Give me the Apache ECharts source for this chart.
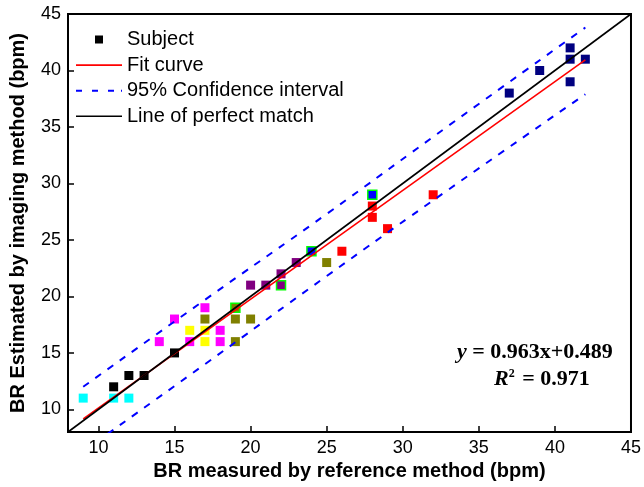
<!DOCTYPE html>
<html>
<head>
<meta charset="utf-8">
<script src="https://cdn.jsdelivr.net/npm/echarts@6/dist/echarts.min.js"></script>
<style>html,body{margin:0;padding:0;background:#fff}#c{width:644px;height:487px}</style>
</head>
<body>
<div id="c"></div>
<script>
// ---- data ----
const xTickValues = [10, 15, 20, 25, 30, 35, 40, 45];
const yTickValues = [10, 15, 20, 25, 30, 35, 40, 45];

const subjBlack       = [[11,12],[12,13],[13,13],[15,15]];
const subjCyan        = [[9,11],[11,11],[12,11]];
const subjMagenta     = [[14,16],[15,18],[16,16],[17,19],[18,17],[18,16]];
const subjYellow      = [[16,17],[17,17],[17,16]];
const subjOlive       = [[17,18],[19,18],[20,18],[19,16],[25,23]];
const subjOliveGreen  = [[19,19]];
const subjPurple      = [[20,21],[21,21],[22,22],[23,23]];
const subjPurpleGreen = [[22,21]];
const subjBlueGreen   = [[24,24],[28,29]];
const subjRed         = [[26,24],[28,28],[28,27],[29,26],[32,29]];
const subjNavy        = [[37,38],[39,40],[41,42],[41,41],[42,41],[41,39]];

const fitLine     = [[9, 9.16], [42, 40.94]];
const upperBand   = [[9, 12.0], [17, 19.7], [25, 27.3], [33, 35.1], [42, 43.8]];
const lowerBand   = [[9, 6.3], [17, 14.0], [25, 21.8], [33, 29.45], [42, 37.9]];
const perfectLine = [[8, 8], [45, 45]];

// ---- styles ----
const FONT = 'Liberation Sans, Arial, sans-serif';
const groups = [
  {name: 'Subject', data: subjBlack,       color: '#000000'},
  {name: 'g_cyan',  data: subjCyan,        color: '#00FFFF'},
  {name: 'g_mag',   data: subjMagenta,     color: '#FF00FF'},
  {name: 'g_yel',   data: subjYellow,      color: '#FFFF00'},
  {name: 'g_oli',   data: subjOlive,       color: '#808000'},
  {name: 'g_olig',  data: subjOliveGreen,  color: '#808000', border: '#00FF00'},
  {name: 'g_pur',   data: subjPurple,      color: '#800080'},
  {name: 'g_purg',  data: subjPurpleGreen, color: '#800080', border: '#00FF00'},
  {name: 'g_blug',  data: subjBlueGreen,   color: '#0000FF', border: '#00FF00'},
  {name: 'g_red',   data: subjRed,         color: '#FF0000'},
  {name: 'g_navy',  data: subjNavy,        color: '#000080'}
];

const series = groups.map(g => ({
  name: g.name,
  type: 'scatter',
  symbol: 'rect',
  symbolSize: 9,
  data: g.data,
  itemStyle: {color: g.color, borderColor: g.border || g.color, borderWidth: g.border ? 1.5 : 0, opacity: 1},
  z: 2
}));

series.push({
  name: 'Fit curve', type: 'line', data: fitLine, symbol: 'none', showSymbol: false,
  lineStyle: {color: '#FF0000', width: 1.6}, itemStyle: {color: '#FF0000'}, z: 4
});
series.push({
  name: '95% Confidence interval', type: 'line', data: upperBand, symbol: 'none', showSymbol: false, smooth: true,
  lineStyle: {color: '#0000FF', width: 2, type: [7, 8]}, itemStyle: {color: '#0000FF'}, z: 4
});
series.push({
  name: '95% Confidence interval', type: 'line', data: lowerBand, symbol: 'none', showSymbol: false, smooth: true,
  lineStyle: {color: '#0000FF', width: 2, type: [7, 8]}, itemStyle: {color: '#0000FF'}, z: 4
});
series.push({
  name: 'Line of perfect match', type: 'line', data: perfectLine, symbol: 'none', showSymbol: false,
  lineStyle: {color: '#000000', width: 1.6}, itemStyle: {color: '#000000'}, z: 5
});

// legend icons (46 x 9 boxes)
const BOX = 'M0,0L0,0.001M46,9L46,8.999';
const iconSquare = 'path://' + BOX + 'M19,0.5h8v8h-8z';
const iconSolid  = 'path://' + BOX + 'M0,3.7h46v1.6h-46z';
const iconDash   = 'path://' + BOX + 'M0,3.5h6v2h-6zM16,3.5h6v2h-6zM32,3.5h6v2h-6zM45,3.5h1v2h-1z';

const chart = echarts.init(document.getElementById('c'), null, {renderer: 'canvas'});
chart.setOption({
  animation: false,
  backgroundColor: '#ffffff',
  grid: {left: 66, right: 7, top: 14, bottom: 55, show: true, borderColor: '#000', borderWidth: 2, backgroundColor: 'transparent'},
  legend: {
    data: [
      {name: 'Subject', icon: iconSquare, itemStyle: {color: '#000', borderWidth: 0}},
      {name: 'Fit curve', icon: iconSolid, itemStyle: {color: '#FF0000', borderWidth: 0}},
      {name: '95% Confidence interval', icon: iconDash, itemStyle: {color: '#0000FF', borderWidth: 0}},
      {name: 'Line of perfect match', icon: iconSolid, itemStyle: {color: '#000000', borderWidth: 0}}
    ],
    orient: 'vertical', left: 76, top: 27, padding: 0,
    itemWidth: 46, itemHeight: 9, itemGap: 0.6,
    selectedMode: false,
    textStyle: {fontFamily: FONT, fontSize: 20, color: '#000', lineHeight: 25}
  },
  xAxis: {
    type: 'value', min: 8, max: 45,
    name: 'BR measured by reference method (bpm)', nameLocation: 'middle', nameGap: 25,
    nameTextStyle: {fontFamily: FONT, fontSize: 20, fontWeight: 'bold', color: '#000'},
    axisLine: {show: true, lineStyle: {color: '#000', width: 2}},
    axisTick: {show: true, inside: true, length: 6, customValues: xTickValues, lineStyle: {color: '#000', width: 1.5}},
    axisLabel: {customValues: xTickValues, fontFamily: FONT, fontSize: 18, color: '#000', margin: 7},
    splitLine: {show: false}
  },
  yAxis: {
    type: 'value', min: 8, max: 45,
    name: 'BR Estimated by imaging method (bpm)', nameLocation: 'middle', nameGap: 40,
    nameTextStyle: {fontFamily: FONT, fontSize: 20, fontWeight: 'bold', color: '#000'},
    axisLine: {show: true, lineStyle: {color: '#000', width: 2}},
    axisTick: {show: true, inside: true, length: 6, customValues: yTickValues, lineStyle: {color: '#000', width: 1.5}},
    axisLabel: {customValues: yTickValues, fontFamily: FONT, fontSize: 18, color: '#000', margin: 7},
    splitLine: {show: false}
  },
  graphic: [
    {
      type: 'text', left: 457, top: 341,
      style: {
        text: '{i|y} = 0.963x+0.489',
        font: 'bold 22px "Liberation Serif", "Times New Roman", serif',
        fill: '#000',
        rich: {i: {fontStyle: 'italic', fontWeight: 'bold', fontSize: 22, fontFamily: 'Liberation Serif'}}
      }
    },
    {
      type: 'text', left: 494, top: 368,
      style: {
        text: '{i|R}{s|2} = 0.971',
        font: 'bold 22px "Liberation Serif", "Times New Roman", serif',
        fill: '#000',
        rich: {
          i: {fontStyle: 'italic', fontWeight: 'bold', fontSize: 22, fontFamily: 'Liberation Serif'},
          s: {fontWeight: 'bold', fontSize: 12, fontFamily: 'Liberation Serif', verticalAlign: 'top', padding: [0, 2, 8, 0]}
        }
      }
    }
  ],
  series: series
});
</script>
</body>
</html>
